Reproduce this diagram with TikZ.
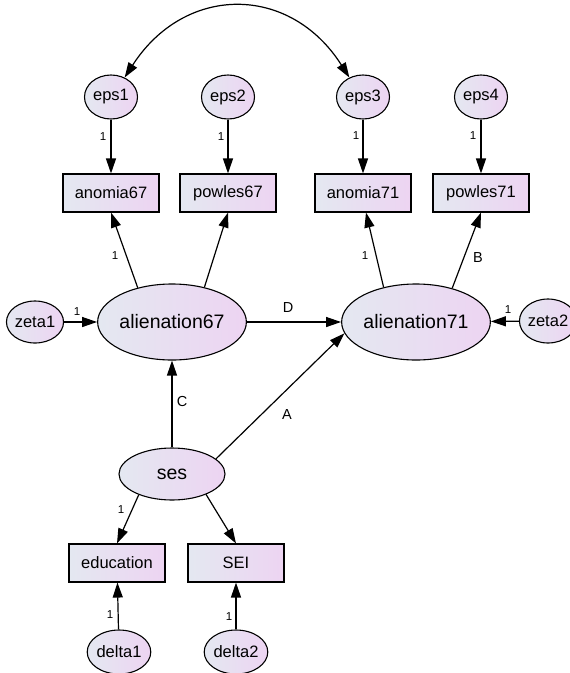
\documentclass[tikz,border=0pt]{standalone}
\usepackage{fontspec}
\setmainfont{Liberation Sans}
\usetikzlibrary{arrows.meta,shapes.geometric}
\definecolor{gl}{RGB}{228,232,241}
\definecolor{gr}{RGB}{237,212,242}
\tikzset{
  grad/.style={left color=gl, right color=gr, draw=black, line width=1.1pt},
  obs/.style={grad, rectangle, minimum width=96pt, minimum height=38pt, inner sep=0pt, font=\fontsize{16.5}{18}\selectfont},
  err/.style={grad, ellipse, minimum width=53pt, minimum height=44pt, inner sep=0pt, font=\fontsize{16.5}{18}\selectfont},
  lat/.style={grad, ellipse, minimum width=142pt, minimum height=76pt, inner sep=0pt, font=\fontsize{19.5}{21}\selectfont},
  path/.style={draw, line width=1.2pt, -{Triangle[length=15pt,width=10pt]}},
  one/.style={font=\fontsize{11.5}{12}\selectfont, inner sep=0pt},
  par/.style={font=\fontsize{14.5}{15}\selectfont, inner sep=0pt}
}
\begin{document}
\begin{tikzpicture}[x=1pt,y=-1pt]
\useasboundingbox (0,0) rectangle (570,673);
% latent
\node[lat] (al67) at (172,322) {alienation67};
\node[lat] (al71) at (416,322) {alienation71};
\node[lat, minimum width=106pt, minimum height=52pt] (ses) at (172,474) {ses};
% observed
\node[obs] (anomia67) at (111,193) {anomia67};
\node[obs] (powles67) at (228,193) {powles67};
\node[obs] (anomia71) at (363,193) {anomia71};
\node[obs] (powles71) at (481,193) {powles71};
\node[obs] (education) at (117,563) {education};
\node[obs] (SEI) at (236,563) {SEI};
% errors
\node[err] (eps1) at (111,97) {eps1};
\node[err] (eps2) at (228,97) {eps2};
\node[err] (eps3) at (363,97) {eps3};
\node[err] (eps4) at (481,97) {eps4};
\node[err, minimum width=56pt, minimum height=42pt] (zeta1) at (35,322) {zeta1};
\node[err, minimum width=54pt] (zeta2) at (548,321) {zeta2};
\node[err, minimum width=55pt] (delta1) at (119,652) {delta1};
\node[err, minimum width=55pt] (delta2) at (236,652) {delta2};
% paths
\draw[path] (eps1) -- (anomia67);
\draw[path] (eps2) -- (powles67);
\draw[path] (eps3) -- (anomia71);
\draw[path] (eps4) -- (powles71);
\draw[path] (al67.135) -- (anomia67.south);
\draw[path] (al67.47) -- (powles67.south);
\draw[path] (al71.133) -- ([xshift=3pt]anomia71.south);
\draw[path] (al71.43) -- (powles71.south);
\draw[path] (zeta1) -- (al67);
\draw[path] (zeta2) -- (al71);
\draw[path] (al67) -- (al71);
\draw[path] (ses) -- (al67);
\draw[path] (ses.19) -- (al71.189);
\draw[path] (ses.212) -- (education.north);
\draw[path] (ses.329) -- (SEI.north);
\draw[path] (delta1) -- (education);
\draw[path] (delta2) -- (SEI);
\draw[line width=1.2pt, {Triangle[length=15pt,width=10pt]}-{Triangle[length=15pt,width=10pt]}]
  (eps1.55) .. controls (185,-16) and (290,-16) .. (eps3.125);
% labels
\node[one] (l1) at (103,137) {1};
\node[one] (l2) at (221,137) {1};
\node[one] (l3) at (356,136) {1};
\node[one] (l4) at (473,136) {1};
\node[one] (l5) at (115,256) {1};
\node[one] (l6) at (365,256) {1};
\node[par] (lB) at (478,258) {B};
\node[one] (l7) at (77,312) {1};
\node[par] (lD) at (288,308) {D};
\node[one] (l8) at (508,310) {1};
\node[par] (lC) at (182,402) {C};
\node[par] (lA) at (287,415) {A};
\node[one] (l9) at (121,510) {1};
\node[one] (l10) at (110,615) {1};
\node[one] (l11) at (229,617) {1};
\end{tikzpicture}
\end{document}
